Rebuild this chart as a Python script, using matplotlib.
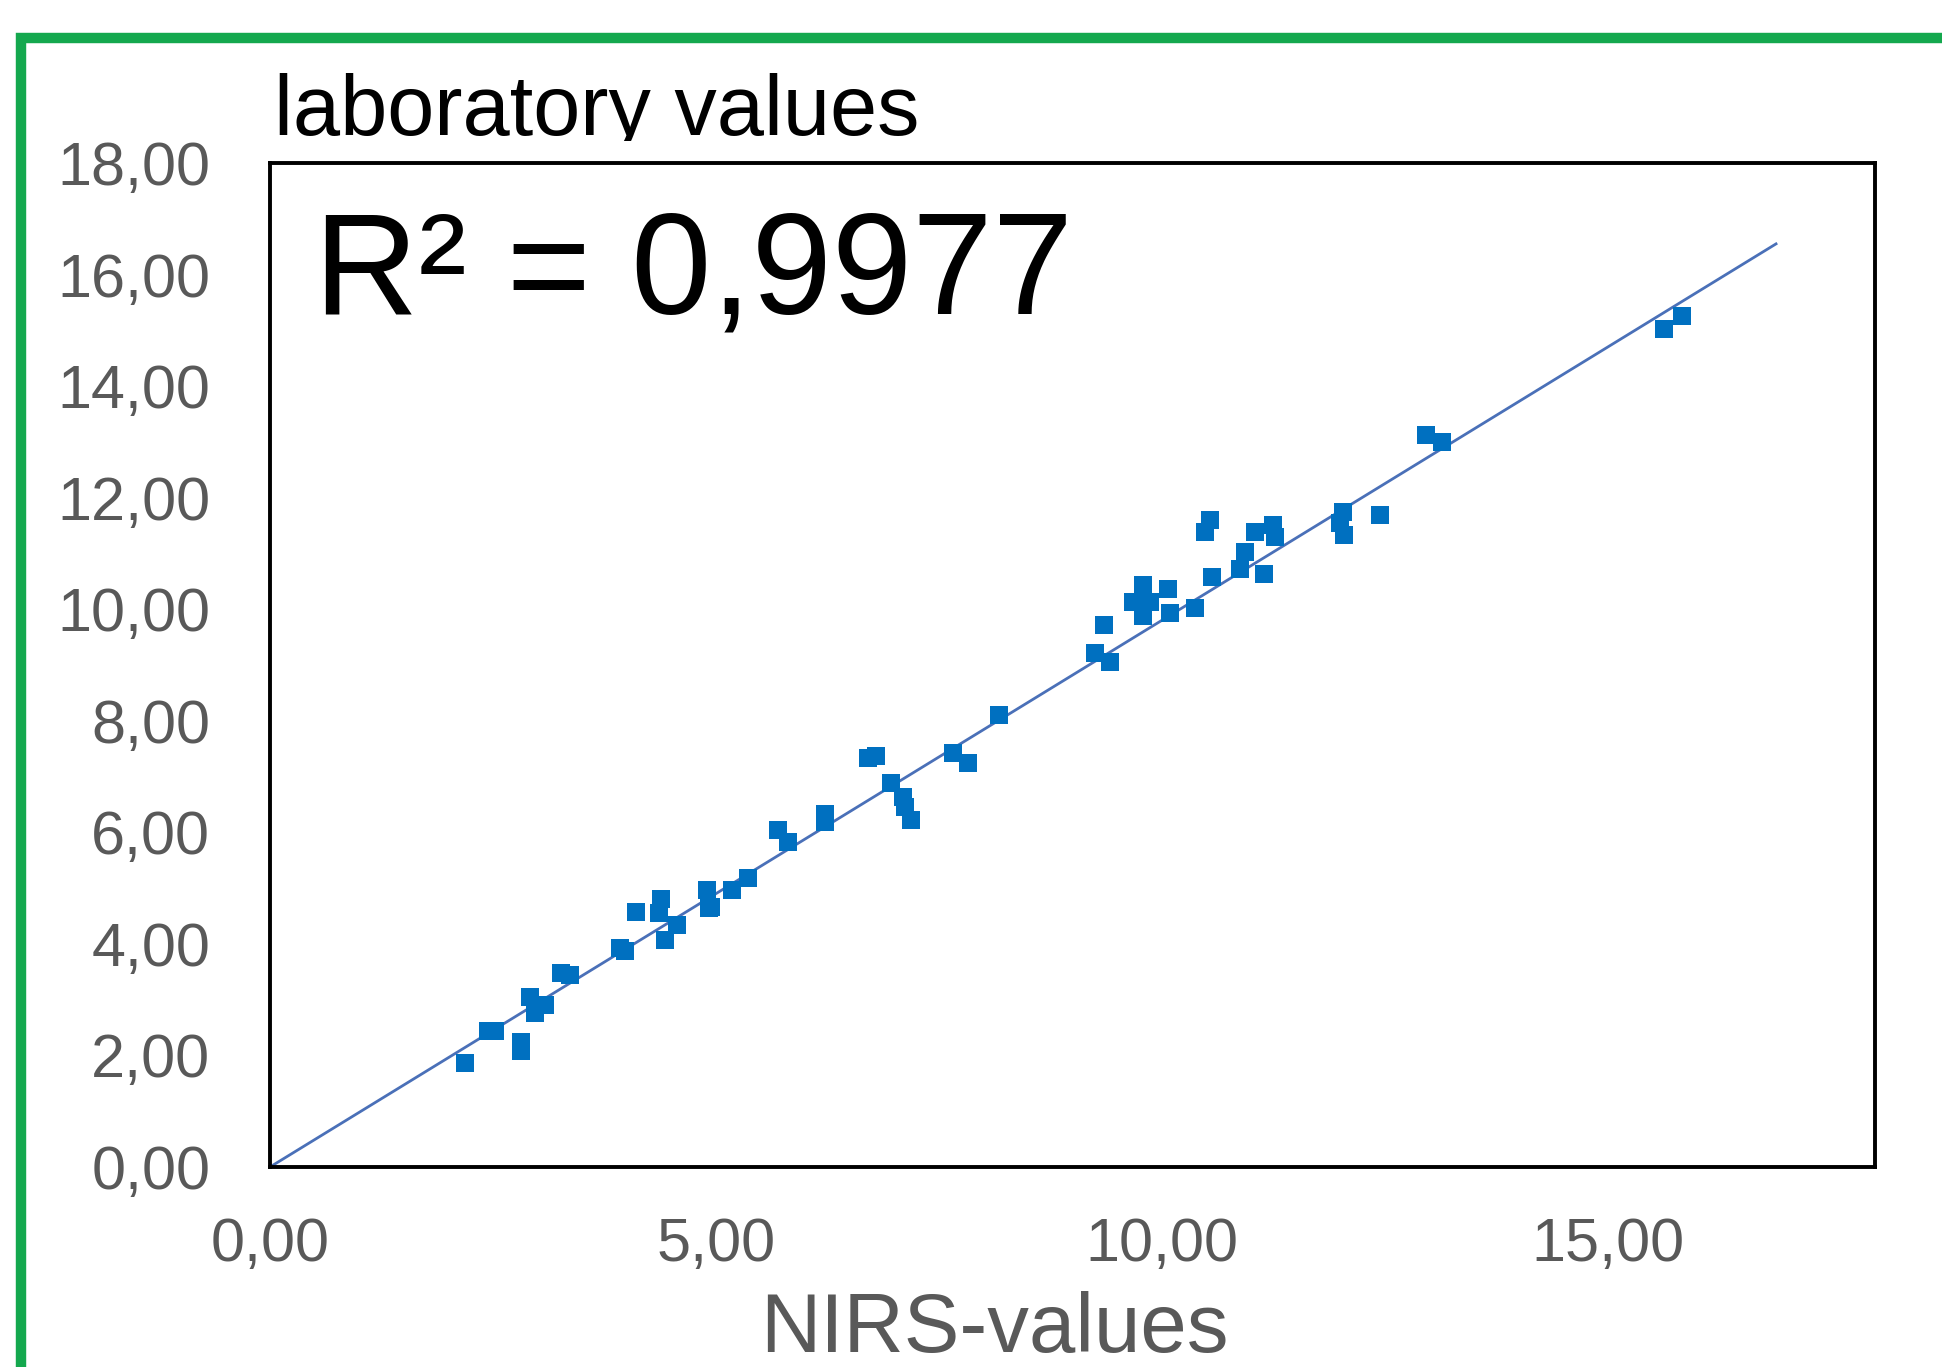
import matplotlib
matplotlib.use("Agg")
import matplotlib.pyplot as plt
from matplotlib.patches import Rectangle
from matplotlib.transforms import Bbox

# ---- data ----
nirs_values = [2.19, 2.44, 2.52, 2.82, 2.82, 2.92, 2.97, 3.08, 3.26, 3.36,
               3.93, 3.98, 4.11, 4.39, 4.36, 4.43, 4.56, 4.90, 4.92, 4.95,
               5.18, 5.36, 5.70, 5.81, 6.22, 6.22, 6.71, 6.80, 6.97, 7.10,
               7.12, 7.19, 7.66, 7.83, 8.18, 9.25, 9.42, 9.35, 9.79, 9.68,
               9.79, 9.87, 9.79, 10.07, 10.09, 10.37, 10.49, 10.54, 10.57, 10.88,
               10.93, 11.05, 11.15, 11.25, 11.27, 12.03, 12.00, 12.04, 12.45, 12.96,
               13.14, 15.63, 15.84]
lab_values = [1.86, 2.43, 2.43, 2.25, 2.08, 3.05, 2.76, 2.90, 3.48, 3.44,
              3.93, 3.87, 4.58, 4.80, 4.55, 4.07, 4.34, 4.97, 4.64, 4.66,
              4.97, 5.19, 6.04, 5.83, 6.18, 6.32, 7.33, 7.37, 6.88, 6.64,
              6.46, 6.22, 7.42, 7.24, 8.10, 9.21, 9.06, 9.72, 10.43, 10.13,
              9.87, 10.13, 10.20, 10.37, 9.93, 10.03, 11.39, 11.60, 10.58, 10.73,
              11.03, 11.39, 10.64, 11.51, 11.30, 11.75, 11.54, 11.33, 11.69, 13.12,
              12.99, 15.02, 15.26]
trend_x = [0.0, 16.89]
trend_y = [0.0, 16.55]
x_ticks = [0, 5, 10, 15]
x_tick_labels = ["0,00", "5,00", "10,00", "15,00"]
y_ticks = [0, 2, 4, 6, 8, 10, 12, 14, 16, 18]
y_tick_labels = ["0,00", "2,00", "4,00", "6,00", "8,00", "10,00", "12,00",
                 "14,00", "16,00", "18,00"]
r2_text = "R² = 0,9977"
title_text = "laboratory values"
xlabel_text = "NIRS-values"

W, H = 1942, 1367
plt.rcParams['font.family'] = ['Liberation Sans', 'DejaVu Sans']
fig = plt.figure(figsize=(W / 100, H / 100), dpi=100)
fig.patch.set_facecolor("white")

def fx(px):
    return px / W

def fy(py):
    return 1 - py / H

# green frame around the chart (extends past right/bottom edges)
fig.patches.append(Rectangle((fx(21), fy(1367 + 40)), fx(1942 + 40 - 21), (1367 + 40 - 38) / H,
                             transform=fig.transFigure, fill=False,
                             edgecolor="#14a84e", linewidth=7.5, zorder=10))

ax = fig.add_axes([fx(270), fy(1167), fx(1875 - 270), (1167 - 163) / H])
ax.set_xlim(0, 18)
ax.set_ylim(0, 18)

ax.plot(trend_x, trend_y, color="#4a70b8", linewidth=2.0, zorder=2)
ax.plot(nirs_values, lab_values, linestyle="none", marker="s", markersize=12.5,
        color="#0070c0", markeredgewidth=0, zorder=3)

ax.set_xticks(x_ticks)
ax.set_xticklabels(x_tick_labels)
ax.set_yticks(y_ticks)
ax.set_yticklabels(y_tick_labels)
ax.tick_params(axis="both", length=0, labelsize=44, labelcolor="#595959")
ax.tick_params(axis="y", pad=43)
ax.tick_params(axis="x", pad=36)
for s in ax.spines.values():
    s.set_color("black")
    s.set_linewidth(2.8)

# R² annotation
ax.text((314 - 270) / (1875 - 270), 1 - (313 - 163) / (1167 - 163), r2_text,
        transform=ax.transAxes, fontsize=104, color="black",
        ha="left", va="baseline")

# title (y-axis title placed at top), clipped at bottom as in reference
t = fig.text(fx(274), fy(135), title_text, fontsize=61, color="black",
             ha="left", va="baseline")
t.set_clip_on(True)
t.set_clip_box(Bbox.from_extents(0, H - 141, W, H))

# x-axis title
fig.text(fx(994), fy(1352), xlabel_text, fontsize=60, color="#595959",
         ha="center", va="baseline")

fig.savefig("out.png", dpi=100, facecolor="white")
